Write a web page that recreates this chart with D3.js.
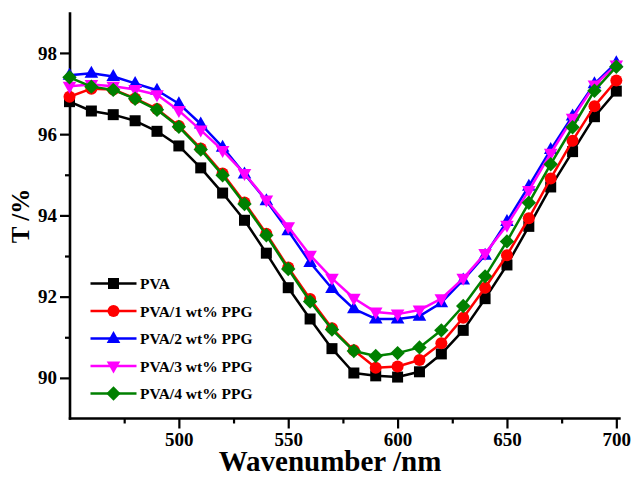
<!DOCTYPE html>
<html>
<head>
<meta charset="utf-8">
<script src="https://cdn.jsdelivr.net/npm/d3@7/dist/d3.min.js"></script>
<style>
  html, body { margin: 0; padding: 0; background: #fff; }
  svg { display: block; }
  text { font-family: "Liberation Serif", "Times New Roman", serif; font-weight: bold; fill: #000; }
</style>
</head>
<body>
<svg id="chart" width="633" height="477"></svg>
<script>
// Wavelengths (nm)
const wavelengths = [450, 460, 470, 480, 490, 500, 510, 520, 530, 540, 550, 560, 570,
                     580, 590, 600, 610, 620, 630, 640, 650, 660, 670, 680, 690, 700];

// Transmittance (%) per film
const pva = [96.80, 96.57, 96.48, 96.33, 96.07, 95.71, 95.17, 94.55, 93.88, 93.07, 92.22, 91.45, 90.72,
             90.12, 90.05, 90.02, 90.15, 90.59, 91.17, 91.95, 92.78, 93.73, 94.70, 95.57, 96.43, 97.06];
const ppg1 = [96.92, 97.12, 97.10, 96.88, 96.62, 96.20, 95.65, 95.03, 94.32, 93.55, 92.72, 91.94, 91.22,
              90.68, 90.25, 90.28, 90.44, 90.85, 91.48, 92.22, 93.02, 93.93, 94.91, 95.84, 96.69, 97.32];
const ppg2 = [97.45, 97.50, 97.42, 97.25, 97.08, 96.75, 96.25, 95.68, 95.02, 94.36, 93.62, 92.84, 92.20,
              91.70, 91.45, 91.45, 91.52, 91.85, 92.41, 93.02, 93.85, 94.72, 95.62, 96.45, 97.24, 97.76];
const ppg3 = [97.18, 97.22, 97.18, 97.10, 96.97, 96.58, 96.10, 95.60, 95.03, 94.38, 93.72, 93.02, 92.45,
              91.96, 91.62, 91.57, 91.67, 91.95, 92.45, 93.06, 93.76, 94.61, 95.53, 96.39, 97.21, 97.70];
const ppg4 = [97.40, 97.17, 97.09, 96.87, 96.60, 96.18, 95.62, 94.99, 94.28, 93.51, 92.68, 91.88, 91.19,
              90.66, 90.54, 90.61, 90.75, 91.17, 91.77, 92.50, 93.36, 94.31, 95.26, 96.17, 97.07, 97.66];

const seriesNames = ["PVA", "PVA/1 wt% PPG", "PVA/2 wt% PPG", "PVA/3 wt% PPG", "PVA/4 wt% PPG"];
const seriesValues = [pva, ppg1, ppg2, ppg3, ppg4];
const seriesColors = ["#000000", "#ff0000", "#0000ff", "#ff00ff", "#008000"];
const seriesMarkers = ["square", "circle", "triangleUp", "triangleDown", "diamond"];

const xTicks = [500, 550, 600, 650, 700];
const xMinorTicks = [475, 525, 575, 625, 675];
const yTicks = [90, 92, 94, 96, 98];
const yMinorTicks = [91, 93, 95, 97];

const svg = d3.select("#chart");

const x = d3.scaleLinear().domain([450, 702]).range([69.5, 620.7]);
const y = d3.scaleLinear().domain([89, 99]).range([418.5, 12.3]);

// marker shapes
function markerPath(kind) {
  switch (kind) {
    case "square": return "M-5.5,-5.5H5.5V5.5H-5.5Z";
    case "circle": return "M6,0A6,6 0 1,1 -6,0A6,6 0 1,1 6,0Z";
    case "triangleUp": return "M0,-7.5L6.8,4.5L-6.8,4.5Z";
    case "triangleDown": return "M0,7.5L6.8,-4.5L-6.8,-4.5Z";
    case "diamond": return "M0,-7.2L7.2,0L0,7.2L-7.2,0Z";
  }
}

// axes
const axisG = svg.append("g");
const yAxis = axisG.append("g").attr("transform", `translate(${x(450) + 0.5},0)`)
  .call(d3.axisLeft(y).tickValues(yTicks).tickSize(10).tickSizeOuter(0).tickPadding(3));
const yMinor = axisG.append("g").attr("transform", `translate(${x(450) + 0.5},0)`)
  .call(d3.axisLeft(y).tickValues(yMinorTicks).tickSize(5).tickFormat(""));
yMinor.select(".domain").remove();

const xAxis = axisG.append("g").attr("transform", `translate(0,${y(89)})`)
  .call(d3.axisBottom(x).tickValues(xTicks).tickSize(10).tickSizeOuter(0).tickPadding(4));
const xMinor = axisG.append("g").attr("transform", `translate(0,${y(89)})`)
  .call(d3.axisBottom(x).tickValues(xMinorTicks).tickSize(5).tickFormat(""));
xMinor.select(".domain").remove();

// axis lines span the full plotting range
yAxis.select(".domain").attr("d", `M0,${y(99)}V${y(89) + 1.2}`);
xAxis.select(".domain").attr("d", `M${x(450) - 0.7},0H${x(702)}`);

axisG.selectAll(".domain").attr("stroke", "#000").attr("stroke-width", 2.6);
axisG.selectAll(".tick line").attr("stroke", "#000").attr("stroke-width", 2.2);
axisG.selectAll(".tick text")
  .style("font-family", '"Liberation Serif", "Times New Roman", serif')
  .style("font-weight", "bold")
  .style("font-size", "19px")
  .attr("fill", "#000");

// series lines and markers
const line = d3.line().x((d, i) => x(wavelengths[i])).y(d => y(d));
const plot = svg.append("g");
seriesValues.forEach((vals, k) => {
  const g = plot.append("g");
  g.append("path").datum(vals)
    .attr("d", line)
    .attr("fill", "none")
    .attr("stroke", seriesColors[k])
    .attr("stroke-width", 2.5)
    .attr("stroke-linejoin", "round");
  g.selectAll("path.m").data(vals).join("path")
    .attr("class", "m")
    .attr("transform", (d, i) => `translate(${x(wavelengths[i])},${y(d)})`)
    .attr("d", markerPath(seriesMarkers[k]))
    .attr("fill", seriesColors[k]);
});

// legend
const legend = svg.append("g");
seriesNames.forEach((name, k) => {
  const ly = 283.5 + k * 27.5;
  legend.append("line")
    .attr("x1", 90.5).attr("x2", 136.5).attr("y1", ly).attr("y2", ly)
    .attr("stroke", seriesColors[k]).attr("stroke-width", 2.5);
  legend.append("path")
    .attr("transform", `translate(113.5,${ly})`)
    .attr("d", markerPath(seriesMarkers[k]))
    .attr("fill", seriesColors[k]);
  legend.append("text")
    .attr("x", 140).attr("y", ly + 5.5)
    .style("font-size", "15.5px")
    .text(name);
});

// axis titles
svg.append("text")
  .attr("x", 330).attr("y", 470.5)
  .attr("text-anchor", "middle")
  .style("font-size", "29px")
  .text("Wavenumber /nm");

svg.append("text")
  .attr("transform", "translate(29,216) rotate(-90)")
  .attr("text-anchor", "middle")
  .style("font-size", "25px")
  .text("T /%");
</script>
</body>
</html>
